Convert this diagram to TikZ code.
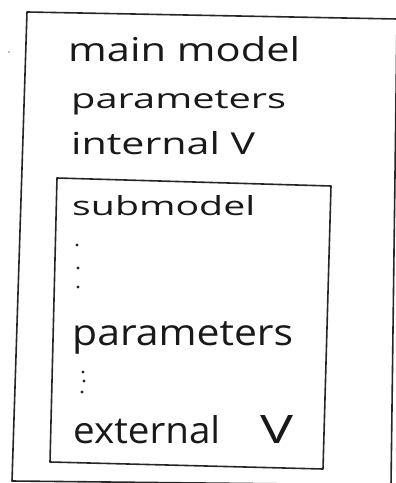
\documentclass[tikz,border=0pt]{standalone}
\usepackage{fontspec}
\setmainfont{Open Sans}
\usepackage{graphicx}
\newcommand{\hw}[3]{\resizebox{#1bp}{#2bp}{#3}}
\tikzset{
  boxline/.style={draw=black!85, line width=1.6bp, line join=round},
  hwtext/.style={anchor=base west, inner sep=0pt, text=black!90},
  dotmark/.style={circle, fill=black!85, inner sep=0pt, minimum size=3.2bp}
}
\begin{document}
\begin{tikzpicture}[x=1bp, y=-1bp]
\useasboundingbox (0,0) rectangle (395,483);
% outer box
\draw[boxline] (27,12) -- (397,19) -- (391,485) -- (12,481) -- cycle;
% inner box
\draw[boxline] (57,178) -- (331,186) -- (323,469) -- (50,462) -- cycle;
% outer texts
\node[hwtext] (t1) at (68,62) {\hw{232}{25}{main model}};
\node[hwtext] (t2) at (71,109) {\hw{215}{18}{parameters}};
\node[hwtext] (t3) at (71,155) {\hw{184}{23}{internal V}};
% inner texts
\node[hwtext] (t4) at (72,215) {\hw{183}{20}{submodel}};
\node[dotmark] (d1) at (77,245) {};
\node[dotmark] (d2) at (78,268) {};
\node[dotmark] (d3) at (78,287) {};
\node[hwtext] (t5) at (72,345) {\hw{221}{24}{parameters}};
\node[dotmark] (d4) at (83,372) {};
\node[dotmark] (d5) at (84,381) {};
\node[dotmark] (d6) at (82,392) {};
\node[hwtext] (t6) at (73,443) {\hw{147}{28}{external}};
\node[hwtext] (t7) at (260,443) {\hw{33}{28}{V}};
% stray dot at left
\node[dotmark, minimum size=1.6bp, fill=black!50] (sd) at (9,52) {};
\end{tikzpicture}
\end{document}
